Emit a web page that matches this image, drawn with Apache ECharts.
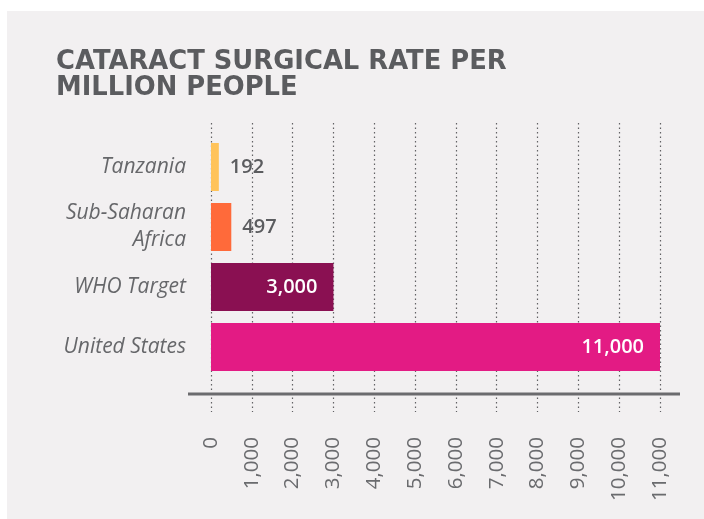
<!DOCTYPE html>
<html>
<head>
<meta charset="utf-8">
<script src="https://cdn.jsdelivr.net/npm/echarts@6/dist/echarts.min.js"></script>
<style>
html,body{margin:0;padding:0;background:#ffffff;overflow:hidden;}
#panel{position:absolute;left:7px;top:11px;width:697px;height:508px;background:#F2F0F1;}
#chart{position:absolute;left:0;top:0;width:704px;height:519px;}
</style>
</head>
<body>
<div id="panel"></div>
<div id="chart"></div>
<script>
var categories = ['Tanzania', 'Sub-Saharan\nAfrica', 'WHO Target', 'United States'];
var values = [192, 497, 3000, 11000];
var barColors = ['#FFC35A', '#FF6A3A', '#8A1052', '#E31B84'];
var labelInside = [false, false, true, true];
var tickMin = 0, tickMax = 11000, tickStep = 1000;

var chart = echarts.init(document.getElementById('chart'), null, {renderer: 'canvas'});
function fmt(v){ return v.toLocaleString('en-US'); }

var barData = values.map(function(v, i){
  return {
    value: v,
    itemStyle: {color: barColors[i]},
    label: labelInside[i]
      ? {position: 'insideRight', distance: 16, color: '#ffffff'}
      : {position: 'right', distance: 11, color: '#5B5C5F'}
  };
});

chart.setOption({
  backgroundColor: 'transparent',
  animation: false,
  title: {
    text: 'CATARACT SURGICAL RATE PER\nMILLION PEOPLE',
    left: 51, top: 44,
    textStyle: {fontFamily: 'DejaVu Sans', fontWeight: 'bold', fontSize: 25.8, lineHeight: 26, color: '#5B5C5F'}
  },
  grid: [
    {left: 211, right: 44, top: 137, bottom: 142},
    {left: 211, right: 44, top: 123, bottom: 107}
  ],
  xAxis: [
    {
      type: 'value', gridIndex: 0, min: tickMin, max: tickMax, interval: tickStep,
      axisLine: {show: false}, axisTick: {show: false}, splitLine: {show: false},
      axisLabel: {rotate: 90, margin: 60, fontFamily: 'Open Sans', fontSize: 20.5, color: '#6A6B6E', formatter: fmt}
    },
    {
      type: 'value', gridIndex: 1, min: tickMin, max: tickMax, interval: tickStep,
      axisLine: {show: false}, axisTick: {show: false}, axisLabel: {show: false},
      splitLine: {show: true, lineStyle: {color: '#626265', type: [1.5, 3], width: 1.2}}
    }
  ],
  yAxis: [
    {
      type: 'category', gridIndex: 0, data: categories, inverse: true,
      axisLine: {show: false}, axisTick: {show: false},
      axisLabel: {margin: 25, fontFamily: 'Open Sans', fontStyle: 'italic', fontSize: 21, lineHeight: 27, color: '#66676A', align: 'right'}
    },
    {type: 'value', gridIndex: 1, show: false, splitLine: {show: false}}
  ],
  series: [{
    type: 'bar', xAxisIndex: 0, yAxisIndex: 0, z: 3,
    data: barData,
    barCategoryGap: '20%',
    label: {show: true, fontFamily: 'Open Sans', fontSize: 20, fontWeight: 600, formatter: function(p){ return fmt(p.value); }}
  }],
  graphic: [{
    type: 'line', z: 10,
    shape: {x1: 188, y1: 394, x2: 680, y2: 394},
    style: {stroke: '#6B6B6E', lineWidth: 3}
  }]
});
</script>
</body>
</html>
